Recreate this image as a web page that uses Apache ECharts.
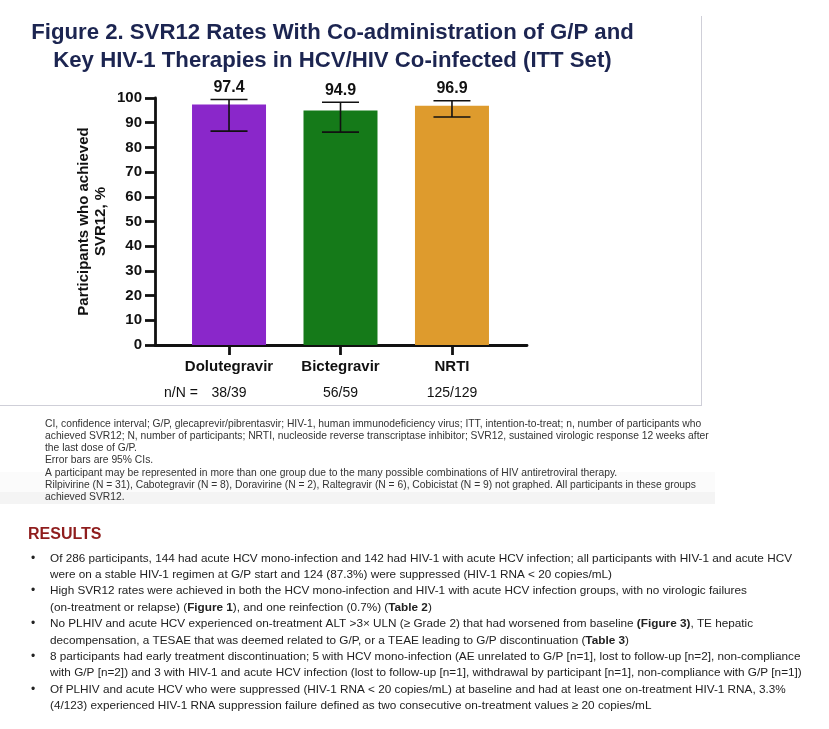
<!DOCTYPE html>
<html>
<head>
<meta charset="utf-8">
<script src="https://cdn.jsdelivr.net/npm/echarts@6/dist/echarts.min.js"></script>
<style>
html,body{margin:0;padding:0;background:#fff;}
#main{width:829px;height:729px;}
</style>
</head>
<body>
<div id="main"></div>
<script>
// ---- data ----
const categories = ['Dolutegravir', 'Bictegravir', 'NRTI'];
const svr12 = [97.4, 94.9, 96.9];
const ciLow = [86.6, 86.2, 92.3];
const ciHigh = [99.4, 98.3, 98.9];
const nOverN = ['38/39', '56/59', '125/129'];
const barColors = ['#8A27CA', '#157A19', '#DE9B2D'];
const yMin = 0, yMax = 100, yStep = 10;

const titleLines = [
  'Figure 2. SVR12 Rates With Co-administration of G/P and',
  'Key HIV-1 Therapies in HCV/HIV Co-infected (ITT Set)'
];
const yAxisName = ['Participants who achieved', 'SVR12, %'];
const footnoteLines = [
  'CI, confidence interval; G/P, glecaprevir/pibrentasvir; HIV-1, human immunodeficiency virus; ITT, intention-to-treat; n, number of participants who',
  'achieved SVR12; N, number of participants; NRTI, nucleoside reverse transcriptase inhibitor; SVR12, sustained virologic response 12 weeks after',
  'the last dose of G/P.',
  'Error bars are 95% CIs.',
  'A participant may be represented in more than one group due to the many possible combinations of HIV antiretroviral therapy.',
  'Rilpivirine (N = 31), Cabotegravir (N = 8), Doravirine (N = 2), Raltegravir (N = 6), Cobicistat (N = 9) not graphed. All participants in these groups',
  'achieved SVR12.'
];
const resultsTitle = 'RESULTS';
const resultsBullets = [
  ['Of 286 participants, 144 had acute HCV mono-infection and 142 had HIV-1 with acute HCV infection; all participants with HIV-1 and acute HCV',
   'were on a stable HIV-1 regimen at G/P start and 124 (87.3%) were suppressed (HIV-1 RNA < 20 copies/mL)'],
  ['High SVR12 rates were achieved in both the HCV mono-infection and HIV-1 with acute HCV infection groups, with no virologic failures',
   '(on-treatment or relapse) ({b|Figure 1}), and one reinfection (0.7%) ({b|Table 2})'],
  ['No PLHIV and acute HCV experienced on-treatment ALT >3× ULN (≥ Grade 2) that had worsened from baseline {b|(Figure 3)}, TE hepatic',
   'decompensation, a TESAE that was deemed related to G/P, or a TEAE leading to G/P discontinuation ({b|Table 3})'],
  ['8 participants had early treatment discontinuation; 5 with HCV mono-infection (AE unrelated to G/P [n=1], lost to follow-up [n=2], non-compliance',
   'with G/P [n=2]) and 3 with HIV-1 and acute HCV infection (lost to follow-up [n=1], withdrawal by participant [n=1], non-compliance with G/P [n=1])'],
  ['Of PLHIV and acute HCV who were suppressed (HIV-1 RNA < 20 copies/mL) at baseline and had at least one on-treatment HIV-1 RNA, 3.3%',
   '(4/123) experienced HIV-1 RNA suppression failure defined as two consecutive on-treatment values ≥ 20 copies/mL']
];

// ---- build ----
const FF = '"Liberation Sans", Arial, Helvetica, sans-serif';
const chart = echarts.init(document.getElementById('main'), null, {renderer: 'canvas'});

const graphics = [];
// panel borders and shaded band
graphics.push({type: 'rect', shape: {x: 0, y: 472, width: 715, height: 20}, style: {fill: '#fbfbfb'}, z: -10});
graphics.push({type: 'rect', shape: {x: 0, y: 492, width: 715, height: 12}, style: {fill: '#f4f4f4'}, z: -10});
graphics.push({type: 'line', shape: {x1: 701.5, y1: 16, x2: 701.5, y2: 405}, style: {stroke: '#cfcfd8', lineWidth: 1}});
graphics.push({type: 'line', shape: {x1: 0, y1: 405.5, x2: 702, y2: 405.5}, style: {stroke: '#cfcfd8', lineWidth: 1}});

// title
titleLines.forEach((t, i) => {
  graphics.push({type: 'text', style: {text: t, x: 332.5, y: 32.5 + i * 28, align: 'center', verticalAlign: 'middle',
    fontFamily: FF, fontSize: 22.2, fontWeight: 'bold', fill: '#1c2551'}});
});
// n/N label
graphics.push({type: 'text', style: {text: 'n/N =', x: 164, y: 393, align: 'left', verticalAlign: 'middle',
  fontFamily: FF, fontSize: 14, fill: '#111'}});
// footnotes
footnoteLines.forEach((t, i) => {
  graphics.push({type: 'text', style: {text: t, x: 45, y: 424 + i * 12.2, align: 'left', verticalAlign: 'middle',
    fontFamily: FF, fontSize: 10.3, fill: '#333'}});
});
// results
graphics.push({type: 'text', style: {text: resultsTitle, x: 28, y: 535, align: 'left', verticalAlign: 'middle',
  fontFamily: FF, fontSize: 16, fontWeight: 'bold', fill: '#8f1d1d'}});
let ly = 558.3;
resultsBullets.forEach((lines) => {
  graphics.push({type: 'text', style: {text: '•', x: 31, y: ly, align: 'left', verticalAlign: 'middle',
    fontFamily: FF, fontSize: 12, fill: '#222'}});
  lines.forEach((t) => {
    graphics.push({type: 'text', style: {text: t, x: 50, y: ly, align: 'left', verticalAlign: 'middle',
      fontFamily: FF, fontSize: 11.75, fill: '#222',
      rich: {b: {fontFamily: FF, fontSize: 11.75, fontWeight: 'bold', fill: '#222'}}}});
    ly += 16.4;
  });
});

const option = {
  backgroundColor: '#fff',
  animation: false,
  grid: {left: 155, top: 98, width: 372, height: 247, containLabel: false},
  xAxis: {
    type: 'value', min: 0.336, max: 3.673,
    axisLine: {show: true, lineStyle: {color: '#111', width: 2.8}},
    axisTick: {show: true, length: 10, customValues: [1, 2, 3], lineStyle: {color: '#111', width: 2.8}},
    splitLine: {show: false},
    axisLabel: {
      customValues: [1, 2, 3], margin: 11,
      formatter: (v) => {
        const i = Math.round(v) - 1;
        return '{a|' + categories[i] + '}\n{n|' + nOverN[i] + '}';
      },
      rich: {
        a: {fontFamily: FF, fontSize: 15, fontWeight: 'bold', color: '#111', lineHeight: 22},
        n: {fontFamily: FF, fontSize: 14, color: '#111', lineHeight: 30}
      }
    }
  },
  yAxis: {
    type: 'value', min: yMin, max: yMax, interval: yStep,
    name: yAxisName.join('\n'), nameLocation: 'middle', nameGap: 46, nameRotate: 90,
    nameTextStyle: {fontFamily: FF, fontSize: 15, fontWeight: 'bold', color: '#111', lineHeight: 17},
    axisLine: {show: true, lineStyle: {color: '#111', width: 2.8}},
    axisTick: {show: true, length: 10, lineStyle: {color: '#111', width: 2.8}},
    splitLine: {show: false},
    axisLabel: {margin: 13, fontFamily: FF, fontSize: 15, fontWeight: 'bold', color: '#111'}
  },
  series: [
    {
      type: 'bar', barWidth: 74,
      data: svr12.map((v, i) => ({value: [i + 1, v], itemStyle: {color: barColors[i]}})),
      z: 2
    },
    {
      type: 'custom', z: 5,
      data: svr12.map((v, i) => [i + 1, ciLow[i], ciHigh[i], v]),
      encode: {x: 0, y: [1, 2]},
      renderItem: (params, api) => {
        const x = api.value(0);
        const lo = api.coord([x, api.value(1)]);
        const hi = api.coord([x, api.value(2)]);
        const hw = 18.5;
        const st = {stroke: '#111', lineWidth: 1.6};
        return {
          type: 'group',
          children: [
            {type: 'line', shape: {x1: lo[0], y1: lo[1], x2: hi[0], y2: hi[1]}, style: st},
            {type: 'line', shape: {x1: lo[0] - hw, y1: lo[1], x2: lo[0] + hw, y2: lo[1]}, style: st},
            {type: 'line', shape: {x1: hi[0] - hw, y1: hi[1], x2: hi[0] + hw, y2: hi[1]}, style: st},
            {type: 'text', style: {text: api.value(3).toFixed(1), x: hi[0], y: hi[1] - 4,
              align: 'center', verticalAlign: 'bottom', fontFamily: FF, fontSize: 16, fontWeight: 'bold', fill: '#111'}}
          ]
        };
      }
    }
  ],
  graphic: graphics
};
chart.setOption(option);
</script>
</body>
</html>
